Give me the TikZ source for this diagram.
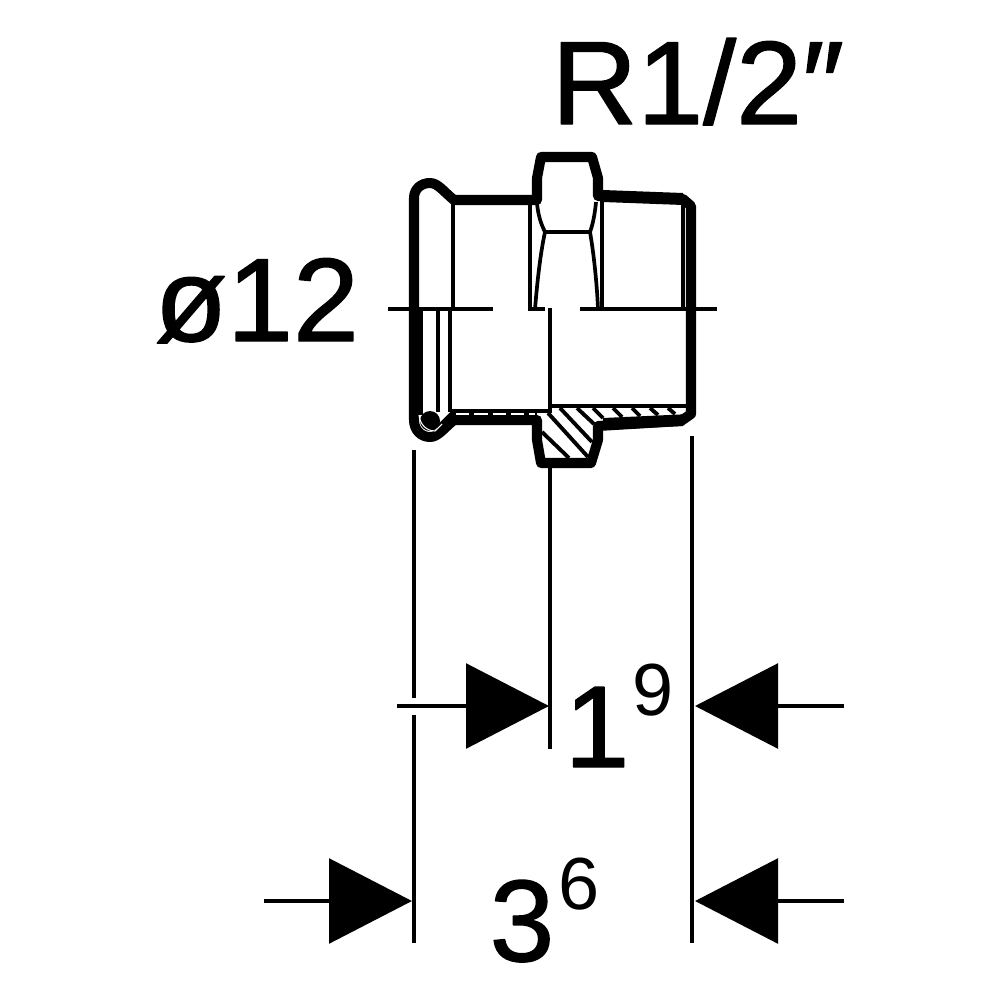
\documentclass[tikz,border=0pt]{standalone}
\usepackage{fontspec}
\setmainfont{Liberation Sans}
\newfontfamily\heavyfont[RawFeature={embolden=1.2}]{Liberation Sans}
\usetikzlibrary{arrows.meta,positioning}

\begin{document}
\begin{tikzpicture}[x=0.01cm,y=-0.01cm,line join=round]
\tikzstyle{outline}=[line width=2.85pt]
\tikzstyle{thinline}=[line width=1.05pt]
\tikzstyle{hatch}=[line width=1.1pt]
\tikzstyle{dimline}=[line width=1.3pt]
\tikzstyle{dimarrow}=[line width=1.35pt,-{Triangle[length=23.6pt,width=24pt]}]
\tikzstyle{bigtext}=[inner sep=0pt,anchor=base west,font=\heavyfont\fontsize{33.7pt}{33.7pt}\selectfont]
\tikzstyle{midtext}=[inner sep=0pt,anchor=base west,font=\heavyfont\fontsize{33pt}{33pt}\selectfont]
\tikzstyle{suptext}=[inner sep=0pt,anchor=base west,font=\fontsize{21pt}{21pt}\selectfont]
\useasboundingbox (0,0) rectangle (1000,1000);
%
% body outline
\draw[outline] (414,300) -- (414,198) .. controls (414,189) and (421,183) .. (430,183) .. controls (438,183) and (444,192) .. (454,200) -- (537,200) -- (537,178) -- (541,157) -- (592,157) -- (598,178) -- (598,196) -- (683,199) -- (691,206) -- (691,414) -- (681,421) -- (598,426) -- (598,440) -- (591,463) -- (541,463) -- (537,440) -- (537,420) -- (454,420) .. controls (444,428) and (438,437) .. (430,437) .. controls (421,437) and (414,430) .. (414,420) -- cycle;
\fill (603,190) -- (683,193) -- (683,205) -- (603,202) -- cycle;
\fill (603,418) -- (691,414) -- (683,426) -- (603,430) -- cycle;
%
% hexagon and inner lines
\draw[thinline] (453,200) -- (453,309);
\draw[thinline] (530,200) -- (530,309);
\draw[thinline] (602,200) -- (602,309);
\draw[thinline] (683,200) -- (683,309);
\draw[thinline] (537,203) .. controls (538,215) and (541,224) .. (545,232) -- (590,232) .. controls (593,224) and (595,213) .. (596,202);
\draw[thinline] (545,232) .. controls (540,255) and (537,285) .. (535,309);
\draw[thinline] (590,232) .. controls (594,255) and (597,285) .. (598,309);
%
% lower half
\draw[thinline] (421,310) -- (421,415);
\draw[thinline] (438,310) -- (438,412);
\draw[thinline] (450,310) -- (450,412);
\draw[thinline] (437,428) -- (452,413);
\draw[thinline] (550,308) -- (550,411);
\draw[thinline] (550,406) -- (691,406);
\draw[thinline] (537,411) -- (552,411);
\fill (430,421) circle (10);
\draw[line width=1.8pt] (450,412.5) -- (537,412.5);
\draw[white,line width=0.5pt,dash pattern=on 3.8pt off 1.4pt] (456,414) -- (535,414);
\draw[white,line width=0.3pt] (419,415) .. controls (420,425) and (427,431) .. (435,431) -- (442,424);
%
% section hatching
\foreach \xa/\ya/\xb/\yb in {542/432/569/458,548/413/588/457,560/408/592/442,577/408/594/424,593/408/603/418,613/408/622/417,632/408/640/416,650/408/658/415,668/408/675/414}
  \draw[hatch] (\xa,\ya) -- (\xb,\yb);
%
% centre line
\draw[thinline] (388,309) -- (493,309);
\draw[thinline] (528,309) -- (545,309);
\draw[thinline] (580,309) -- (717,309);
%
% dimension lines
\coordinate (ext1a) at (414,450); \coordinate (ext1b) at (414,698);
\coordinate (ext1c) at (414,715); \coordinate (ext1d) at (414,943);
\coordinate (ext2a) at (550,468); \coordinate (ext2b) at (550,749);
\coordinate (ext3a) at (692,436); \coordinate (ext3b) at (692,943);
\draw[dimline] (ext1a) -- (ext1b);
\draw[dimline] (ext1c) -- (ext1d);
\draw[dimline] (ext2a) -- (ext2b);
\draw[dimline] (ext3a) -- (ext3b);
\coordinate (a1s) at (397,706); \coordinate (a1e) at (549,706);
\coordinate (a2s) at (844,706); \coordinate (a2e) at (695,706);
\coordinate (a3s) at (264,901); \coordinate (a3e) at (412,901);
\coordinate (a4s) at (844,901); \coordinate (a4e) at (695,901);
\draw[dimarrow] (a1s) -- (a1e);
\draw[dimarrow] (a2s) -- (a2e);
\draw[dimarrow] (a3s) -- (a3e);
\draw[dimarrow] (a4s) -- (a4e);
%
% labels
\node[bigtext] (labr) at (551,124) {R1/2″};
\node[bigtext] (labd) at (154,341) {ø12};
\node[midtext] (lab1) at (564,767) {1};
\node[suptext] (lab9) at (632,715) {9};
\node[midtext] (lab3) at (489,961) {3};
\node[suptext] (lab6) at (558,909) {6};
\end{tikzpicture}
\end{document}
